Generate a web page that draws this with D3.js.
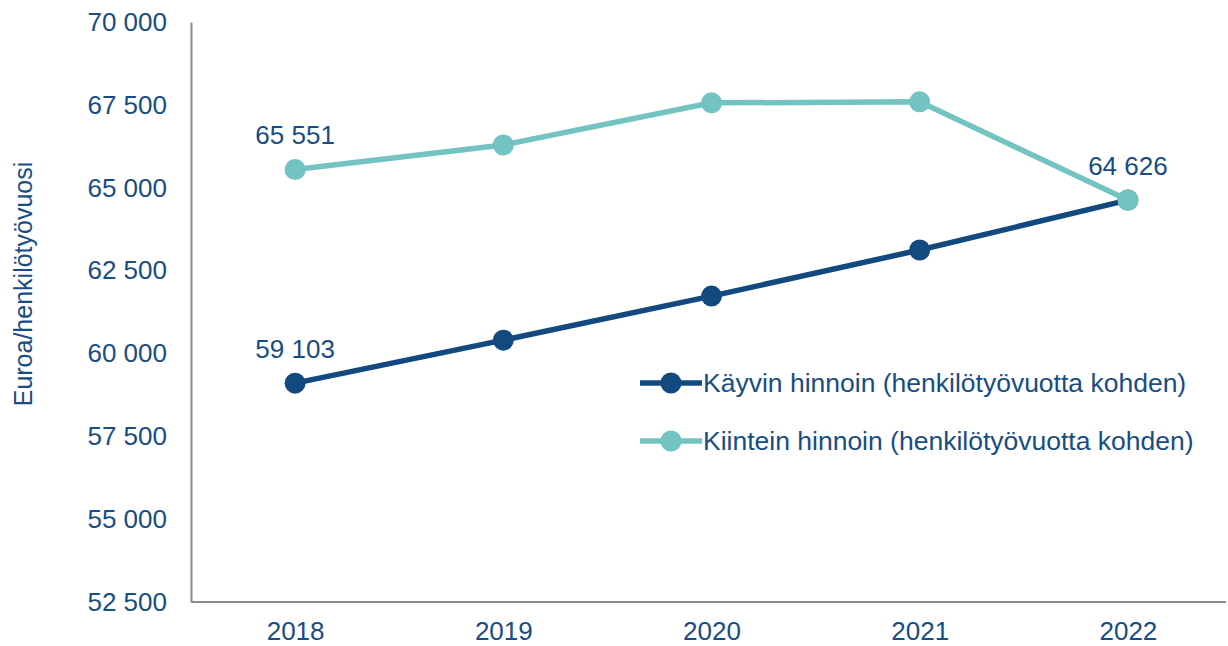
<!DOCTYPE html>
<html>
<head>
<meta charset="utf-8">
<script src="https://cdn.jsdelivr.net/npm/d3@7"></script>
<style>
  body { margin: 0; background: #fff; }
  svg text { font-family: "Liberation Sans", Arial, sans-serif; fill: #174d85; }
</style>
</head>
<body>
<svg id="chart"></svg>
<script>
const years = ["2018", "2019", "2020", "2021", "2022"];
const currentPrices = [59103, 60400, 61730, 63120, 64626];
const fixedPrices = [65551, 66290, 67560, 67590, 64626];
const yTicks = [52500, 55000, 57500, 60000, 62500, 65000, 67500, 70000];
const seriesNames = ["Käyvin hinnoin (henkilötyövuotta kohden)", "Kiintein hinnoin (henkilötyövuotta kohden)"];
const yTitle = "Euroa/henkilötyövuosi";

const width = 1228, height = 646;
const margin = { top: 22, right: 2, bottom: 44, left: 191 };
const colors = ["#124a80", "#72c3c1"];

const svg = d3.select("#chart").attr("width", width).attr("height", height);

const x = d3.scalePoint().domain(years).range([margin.left, margin.left + 1041]).padding(0.5);
const y = d3.scaleLinear().domain([52500, 70000]).range([height - margin.bottom, margin.top]);

const fmt = v => d3.format(",")(v).replace(/,/g, " ");

// y axis
const yAxis = svg.append("g")
  .attr("transform", `translate(${margin.left},0)`)
  .call(d3.axisLeft(y).tickValues(yTicks).tickSize(0).tickPadding(24).tickFormat(fmt));
yAxis.select(".domain").attr("stroke", "#8c8c8c").attr("stroke-width", 2);
yAxis.selectAll("text").style("font-size", "26px").attr("fill", "#174d85");

// x axis
const xAxis = svg.append("g")
  .attr("transform", `translate(0,${height - margin.bottom})`)
  .call(d3.axisBottom(x).tickSize(0).tickPadding(20));
xAxis.select(".domain").attr("stroke", "#8c8c8c").attr("stroke-width", 2)
  .attr("d", `M${margin.left},0H${width - margin.right}`);
xAxis.selectAll("text").style("font-size", "26px").attr("fill", "#174d85");

svg.append("text")
  .attr("transform", `translate(32,284) rotate(-90)`)
  .attr("text-anchor", "middle")
  .style("font-size", "25px")
  .text(yTitle);

const line = d3.line().x((d, i) => x(years[i])).y(d => y(d));

[currentPrices, fixedPrices].forEach((vals, s) => {
  svg.append("path")
    .datum(vals)
    .attr("fill", "none")
    .attr("stroke", colors[s])
    .attr("stroke-width", 5.5)
    .attr("d", line);
  svg.selectAll(null)
    .data(vals)
    .join("circle")
    .attr("cx", (d, i) => x(years[i]))
    .attr("cy", d => y(d))
    .attr("r", 10.5)
    .attr("fill", colors[s]);
});

// data labels
const labels = [
  { year: "2018", value: fixedPrices[0], dy: -25 },
  { year: "2018", value: currentPrices[0], dy: -25 },
  { year: "2022", value: currentPrices[4], dy: -25 }
];
svg.selectAll(null)
  .data(labels)
  .join("text")
  .attr("x", d => x(d.year))
  .attr("y", d => y(d.value) + d.dy)
  .attr("text-anchor", "middle")
  .style("font-size", "26px")
  .text(d => fmt(d.value));

// legend
const legend = svg.append("g").attr("transform", "translate(640,383)");
seriesNames.forEach((name, i) => {
  const g = legend.append("g").attr("transform", `translate(0,${i * 58})`);
  g.append("line").attr("x1", 0).attr("x2", 62).attr("stroke", colors[i]).attr("stroke-width", 5.5);
  g.append("circle").attr("cx", 31).attr("r", 10.5).attr("fill", colors[i]);
  g.append("text").attr("x", 63).attr("dy", "0.35em").style("font-size", "26.5px").text(name);
});
</script>
</body>
</html>
